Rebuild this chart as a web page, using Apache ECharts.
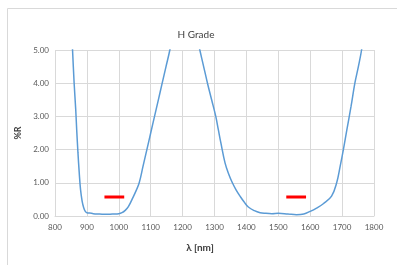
<!DOCTYPE html>
<html>
<head>
<meta charset="utf-8">
<script src="https://cdn.jsdelivr.net/npm/echarts@6/dist/echarts.min.js"></script>
<style>
  html, body { margin: 0; padding: 0; background: #fff; }
  #chart { width: 397px; height: 265px; }
</style>
</head>
<body>
<div id="chart"></div>
<script>
// reflectance curve (nm, %R)
const wavelength = [840, 845, 850, 855, 860, 865, 868, 872, 876, 880, 885, 890, 895, 900, 910, 920, 940, 960, 980, 1000, 1010, 1020, 1030, 1045, 1055, 1064, 1076, 1088, 1100, 1112, 1124, 1136, 1148, 1160, 1180, 1205, 1230, 1254, 1266, 1278, 1291, 1304, 1312, 1320, 1333, 1345, 1356, 1368, 1380, 1393, 1406, 1425, 1443, 1460, 1480, 1500, 1530, 1557, 1580, 1600, 1620, 1641, 1667, 1683, 1694, 1704, 1715, 1728, 1740, 1751, 1761, 1775]
const reflectance = [8.5, 7.0, 6.0, 5.0, 4.0, 3.2, 2.6, 1.9, 1.3, 0.8, 0.45, 0.25, 0.14, 0.1, 0.09, 0.07, 0.06, 0.05, 0.06, 0.07, 0.1, 0.17, 0.28, 0.57, 0.78, 1.0, 1.5, 2.0, 2.5, 3.0, 3.5, 4.0, 4.5, 5.0, 6.0, 6.4, 6.0, 5.0, 4.5, 4.0, 3.5, 3.0, 2.6, 2.2, 1.6, 1.25, 1.0, 0.78, 0.6, 0.42, 0.27, 0.16, 0.1, 0.08, 0.07, 0.08, 0.06, 0.04, 0.06, 0.14, 0.24, 0.37, 0.6, 1.0, 1.5, 2.0, 2.6, 3.3, 4.0, 4.5, 5.0, 6.0]

// red spec bars
const specStart = [955, 1525]
const specEnd = [1017, 1587]
const specValue = [0.57, 0.57]

const xTicks = { min: 800, max: 1800, step: 100 }
const yTicks = { min: 0, max: 5, step: 1 }

const curve = wavelength.map((w, i) => [w, reflectance[i]])

const specSeries = specStart.map((s, i) => ({
    type: 'line',
    data: [[s, specValue[i]], [specEnd[i], specValue[i]]],
    symbol: 'none',
    lineStyle: { color: '#ff0000', width: 3 },
    silent: true,
    z: 3
}))

const chart = echarts.init(document.getElementById('chart'))
chart.setOption({
    animation: false,
    textStyle: { fontFamily: 'Lato' },
    title: {
        text: 'H Grade',
        left: 191,
        top: 25,
        textAlign: 'center',
        textStyle: { fontSize: 10, fontWeight: 'normal', color: '#404040', fontFamily: 'Lato' }
    },
    graphic: [{
        type: 'rect',
        shape: { x: 7.5, y: 8.5, width: 420, height: 300 },
        style: { fill: 'none', stroke: '#d9d9d9', lineWidth: 1 },
        silent: true
    }],
    grid: { left: 55, right: 23, top: 50, bottom: 49 },
    xAxis: {
        type: 'value',
        min: xTicks.min,
        max: xTicks.max,
        interval: xTicks.step,
        name: 'λ [nm]',
        nameLocation: 'middle',
        nameGap: 27,
        nameTextStyle: { fontSize: 10, fontWeight: 'bold', color: '#404040', padding: [0, 0, 0, -29] },
        axisLine: { lineStyle: { color: '#d9d9d9' } },
        axisTick: { show: false },
        axisLabel: { fontSize: 8, color: '#595959', margin: 7, formatter: v => String(v) },
        splitLine: { lineStyle: { color: '#d9d9d9' } }
    },
    yAxis: {
        type: 'value',
        min: yTicks.min,
        max: yTicks.max,
        interval: yTicks.step,
        name: '%R',
        nameLocation: 'middle',
        nameGap: 28,
        nameRotate: 90,
        nameTextStyle: { fontSize: 9, fontWeight: 'bold', color: '#404040', padding: [0, 0, 4, 0] },
        axisLine: { show: false },
        axisTick: { show: false },
        axisLabel: { fontSize: 8, color: '#595959', margin: 6, formatter: v => v.toFixed(2) },
        splitLine: { lineStyle: { color: '#d9d9d9' } }
    },
    series: [{
        type: 'line',
        data: curve,
        smooth: 0.4,
        symbol: 'none',
        clip: true,
        lineStyle: { color: '#5b9bd5', width: 1.5 },
        z: 2
    }].concat(specSeries)
})
</script>
</body>
</html>
